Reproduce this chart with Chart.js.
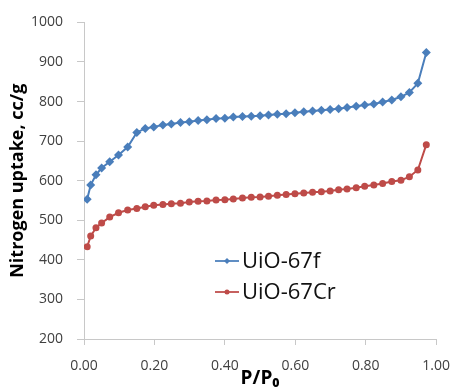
<!DOCTYPE html>
<html>
<head>
<meta charset="utf-8">
<script src="https://cdn.jsdelivr.net/npm/chart.js@4/dist/chart.umd.min.js"></script>
<style>
  html, body { margin: 0; padding: 0; background: #fff; }
  #wrap { width: 463px; height: 390px; position: relative; }
</style>
</head>
<body>
<div id="wrap"><canvas id="c" width="463" height="390"></canvas></div>
<script>
// Relative pressure P/P0
const pressure = [0.009,0.019,0.034,0.050,0.073,0.098,0.124,0.150,0.174,0.198,
                  0.224,0.248,0.274,0.299,0.324,0.349,0.375,0.400,0.424,0.450,
                  0.475,0.500,0.524,0.549,0.574,0.599,0.624,0.649,0.674,0.699,
                  0.723,0.747,0.773,0.797,0.823,0.848,0.874,0.900,0.924,0.948,0.972];
// Nitrogen uptake, cc/g
const uio67f  = [553,589,615,632,648,665,685,722,732,736,
                 741,743,747,749,752,754,757,758,761,762,
                 763,764,766,768,769,772,774,776,778,780,
                 782,785,788,791,794,799,804,812,823,846,924];
const uio67cr = [433,460,481,493,508,519,526,530,534,538,
                 540,542,543,546,548,549,551,552,554,556,
                 558,559,561,563,565,567,569,571,572,574,
                 577,579,582,586,589,593,598,601,610,627,691];
const seriesNames = ['UiO-67f', 'UiO-67Cr'];
const xTitle = 'P/P\u2080';
const yTitle = 'Nitrogen uptake, cc/g';

const blue = '#4a7ebb';
const red = '#be4b48';

const toPts = (ys) => pressure.map((p, i) => ({x: p, y: ys[i]}));

const legendPlugin = {
  id: 'insideLegend',
  afterDraw(chart) {
    const ctx = chart.ctx;
    const rows = [{y: 261}, {y: 292}];
    chart.data.datasets.forEach((ds, i) => {
      const y = rows[i].y;
      ctx.save();
      ctx.strokeStyle = ds.borderColor;
      ctx.lineWidth = 1.75;
      ctx.beginPath();
      ctx.moveTo(215, y);
      ctx.lineTo(239, y);
      ctx.stroke();
      ctx.fillStyle = ds.backgroundColor;
      ctx.beginPath();
      if (ds.pointStyle === 'rectRot') {
        const r = 3;
        ctx.moveTo(227, y - r); ctx.lineTo(227 + r, y); ctx.lineTo(227, y + r); ctx.lineTo(227 - r, y);
        ctx.closePath();
      } else {
        ctx.arc(227, y, 2.5, 0, Math.PI * 2);
      }
      ctx.fill();
      ctx.fillStyle = '#111';
      ctx.font = '22px "Open Sans"';
      ctx.textBaseline = 'middle';
      ctx.textAlign = 'left';
      ctx.fillText(ds.label, 242, y + 1);
      ctx.restore();
    });
  }
};

new Chart(document.getElementById('c'), {
  type: 'line',
  data: {
    datasets: [
      {
        label: seriesNames[0],
        data: toPts(uio67f),
        borderColor: blue,
        backgroundColor: blue,
        borderWidth: 2,
        pointStyle: 'rectRot',
        pointRadius: 4.5,
        pointBorderWidth: 0,
        tension: 0
      },
      {
        label: seriesNames[1],
        data: toPts(uio67cr),
        borderColor: red,
        backgroundColor: red,
        borderWidth: 2,
        pointStyle: 'circle',
        pointRadius: 3.5,
        pointBorderWidth: 0,
        tension: 0
      }
    ]
  },
  options: {
    responsive: false,
    animation: false,
    layout: { padding: { top: 20, right: 16, left: 0, bottom: 0 } },
    plugins: {
      legend: { display: false },
      tooltip: { enabled: false }
    },
    scales: {
      x: {
        type: 'linear',
        min: 0, max: 1,
        afterFit(s) { s.height = 51; },
        ticks: {
          stepSize: 0.2,
          callback: (v) => v.toFixed(2),
          color: '#404040',
          font: { family: 'Open Sans', size: 14 },
          padding: 13,
          maxRotation: 0
        },
        grid: { display: true, drawOnChartArea: false, drawTicks: true, tickLength: 6, color: '#c8c8c8' },
        border: { display: true, color: '#c8c8c8', width: 1 },
        title: {
          display: true, text: xTitle, color: '#000',
          font: { family: 'Open Sans', size: 19, weight: 'bold' },
          padding: { top: 0, bottom: 0 }
        }
      },
      y: {
        min: 200, max: 1000,
        afterFit(s) { s.width = 84; },
        ticks: {
          stepSize: 100,
          callback: (v) => String(v),
          color: '#404040',
          font: { family: 'Open Sans', size: 14 },
          padding: 14
        },
        grid: { display: true, drawOnChartArea: false, drawTicks: true, tickLength: 7, color: '#c8c8c8' },
        border: { display: true, color: '#c8c8c8', width: 1 },
        title: {
          display: true, text: yTitle, color: '#000',
          font: { family: 'Open Sans', size: 18, weight: 'bold' },
          padding: { top: 7, bottom: 0 }
        }
      }
    }
  },
  plugins: [legendPlugin]
});
</script>
</body>
</html>
